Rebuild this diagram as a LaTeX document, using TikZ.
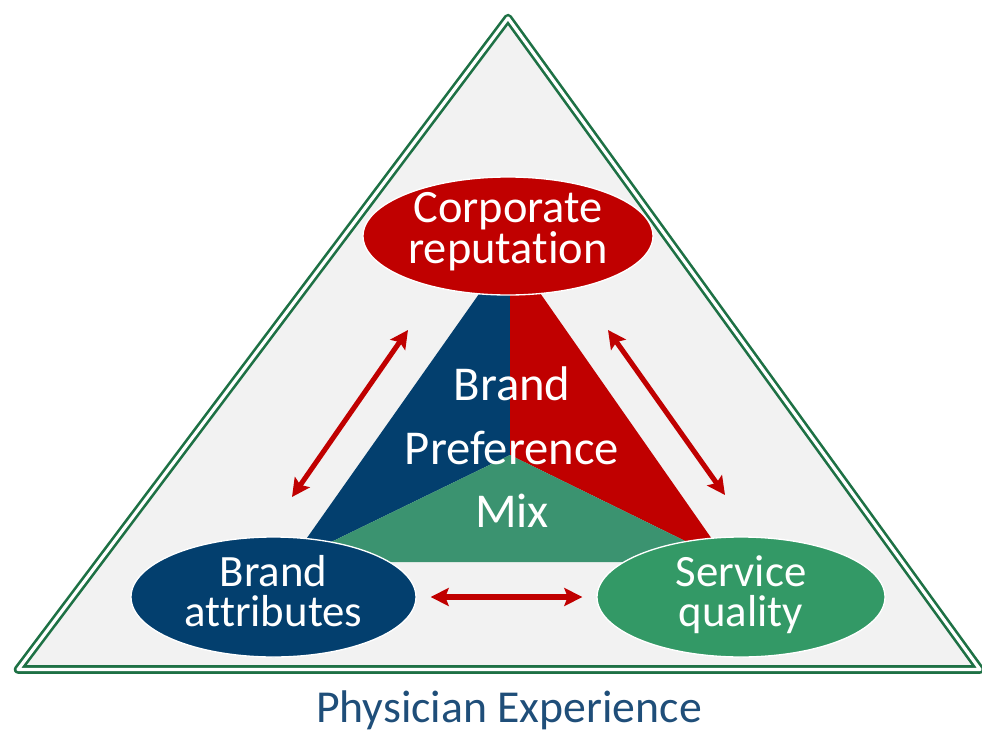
\documentclass[tikz,border=0pt]{standalone}
\usepackage{fontspec}
\setmainfont{Carlito}[Ligatures={NoCommon,NoContextual}]
\usetikzlibrary{shapes.geometric,arrows.meta}
\definecolor{frameGreen}{HTML}{1E7145}
\definecolor{bgGray}{HTML}{F2F2F2}
\definecolor{navyBlue}{HTML}{033F6E}
\definecolor{deepRed}{HTML}{C00000}
\definecolor{sliceGreen}{HTML}{3B9370}
\definecolor{bubbleGreen}{HTML}{339966}
\definecolor{titleBlue}{HTML}{1F4E79}
\begin{document}
\begin{tikzpicture}[x=0.75pt,y=-0.75pt,
  bubble/.style={ellipse, draw=white, line width=1pt, inner sep=0pt},
  bubbletext/.style={text=white, align=center, inner sep=0pt},
  twoway/.style={draw=deepRed, line width=3.8pt,
    {Stealth[length=13.5pt,width=13.5pt,inset=2.5pt]}-{Stealth[length=13.5pt,width=13.5pt,inset=2.5pt]}}]
\useasboundingbox (0,0) rectangle (982,732);
% outer triangle
\coordinate (apex) at (508,18);
\coordinate (bl) at (18,669.5);
\coordinate (br) at (980,669.5);
\fill[bgGray] (apex) -- (bl) -- (br) -- cycle;
\draw[frameGreen, double=white, double distance=2.4pt, line width=2pt, line join=round]
  (apex) -- (bl) -- (br) -- cycle;
% inner triangle
\coordinate (ta) at (510,250);
\coordinate (tl) at (290,562);
\coordinate (tr) at (728,562);
\coordinate (tc) at (510,455);
\fill[navyBlue] (ta) -- (tc) -- (tl) -- cycle;
\fill[deepRed] (ta) -- (tr) -- (tc) -- cycle;
\fill[sliceGreen] (tc) -- (tr) -- (tl) -- cycle;
\node[text=white, align=center, inner sep=0pt,
  font={\fontsize{36.5}{47.6}\selectfont}] (bpm) at (512,447.5) {Brand\\Preference\\Mix};
% ellipses
\node[bubble, fill=deepRed, minimum width=217.5pt, minimum height=88.5pt] (cr) at (508,236) {};
\node[bubble, fill=navyBlue, minimum width=213.75pt, minimum height=90pt] (ba) at (273.5,597) {};
\node[bubble, fill=bubbleGreen, minimum width=216pt, minimum height=90pt] (sq) at (741,597) {};
\node[bubbletext, font={\fontsize{34.8}{24.75}\selectfont}] (crtext) at (508,232) {Corporate\\reputation};
\node[bubbletext, font={\fontsize{33.6}{30}\selectfont}] (batext) at (273.5,591) {Brand\\attributes};
\node[bubbletext, font={\fontsize{33.6}{30}\selectfont}] (sqtext) at (741,595) {Service\\quality};
% arrows
\coordinate (crL) at (408,330);
\coordinate (baU) at (292,497);
\coordinate (crR) at (608,330);
\coordinate (sqU) at (725,495);
\draw[twoway] (crL) -- (baU);
\draw[twoway] (crR) -- (sqU);
\draw[twoway, shorten <=10.5pt, shorten >=10.5pt] (ba) -- (sq);
% caption
\node[text=titleBlue, anchor=base, inner sep=0pt, font={\fontsize{34.3}{40}\selectfont}] (pe) at (509,722.5) {Physician Experience};
\end{tikzpicture}
\end{document}
